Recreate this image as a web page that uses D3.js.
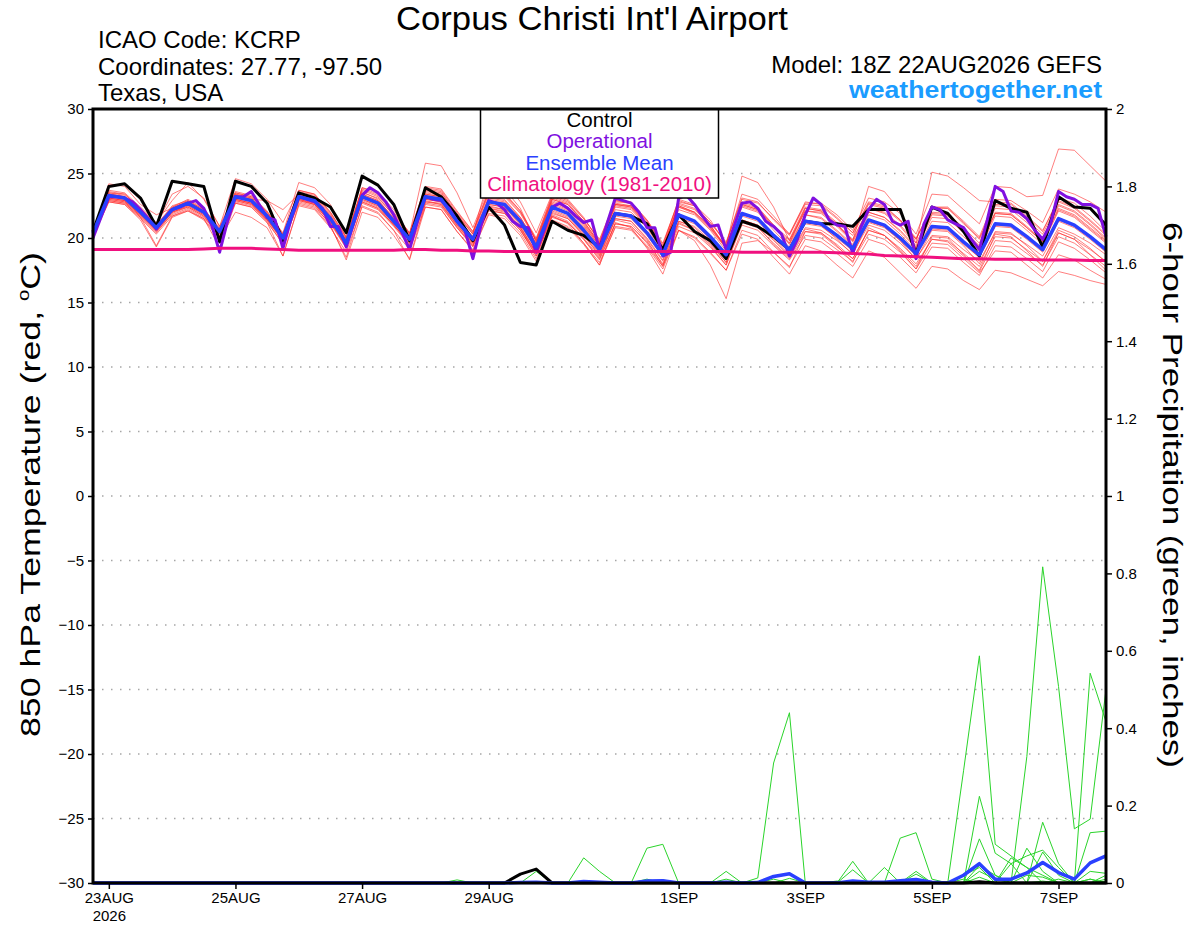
<!DOCTYPE html>
<html>
<head>
<meta charset="utf-8">
<title>KCRP GEFS 850 hPa temperature</title>
<script src="https://cdn.jsdelivr.net/npm/d3@7"></script>
<style>
  body { margin: 0; background: #ffffff; }
  svg { display: block; }
  text { font-family: "Liberation Sans", Arial, sans-serif; }
</style>
</head>
<body>
<div id="container"></div>
<script>
/**
 * CONSTANTS AND GLOBALS
 * */
const width = 1200,
  height = 927,
  margin = { top: 109, bottom: 44, left: 93, right: 94 };

const runStart = Date.UTC(2026, 7, 22, 18); // 18Z 22AUG2026
const HOUR = 3600 * 1000;

const colors = {
  member: "#ff2a2a",
  pcp: "#2ad42a",
  control: "#000000",
  oper: "#8010e0",
  mean: "#2a40ff",
  clim: "#f0107f",
  site: "#1a9cff"
};

let svg;

/**
 * DATA
 * */
const tickDays = ["2026-08-23T00:00:00Z", "2026-08-25T00:00:00Z", "2026-08-27T00:00:00Z", "2026-08-29T00:00:00Z",
  "2026-09-01T00:00:00Z", "2026-09-03T00:00:00Z", "2026-09-05T00:00:00Z", "2026-09-07T00:00:00Z"];
const tickLabels = ["23AUG", "25AUG", "27AUG", "29AUG", "1SEP", "3SEP", "5SEP", "7SEP"];
const tempTicks = [-30, -25, -20, -15, -10, -5, 0, 5, 10, 15, 20, 25, 30];
const pcpTicks = [0, 0.2, 0.4, 0.6, 0.8, 1, 1.2, 1.4, 1.6, 1.8, 2];
const legendItems = ["Control", "Operational", "Ensemble Mean", "Climatology (1981-2010)"];

// 850 hPa temperature, 6-hourly from 18Z 22AUG (65 values)
const tempMean = [20.4, 23.3,23.1,22.0,20.8, 22.2,22.7,22.0,20.5, 23.2,22.9,21.7,20.0, 23.2,22.9,21.5,19.6, 23.2,22.7,21.3,19.9, 23.2,23.0,21.3,19.9, 22.8,22.6,21.3,19.3, 22.4,21.9,20.6,19.1, 21.9,21.7,20.4,18.7, 21.8,21.3,20.1,18.7, 21.9,21.5,20.2,19.1, 21.3,21.1,20.2,19.2, 21.4,21.0,20.0,18.8, 20.9,20.8,19.7,18.7, 21.1,21.0,20.1,19.1, 21.5,21.0,20.1,19.1];
const tempControl = [20.5, 24.0,24.2,23.1,20.9, 24.4,24.2,24.0,19.7, 24.4,24.0,22.7,19.8, 23.5,23.1,22.4,20.4, 24.8,24.1,22.6,19.8, 23.9,23.2,21.7,19.8, 22.4,21.0,18.1,17.9, 21.3,20.6,20.2,19.3, 21.9,21.7,21.1,19.1, 21.8,20.5,19.8,18.4, 21.3,20.9,20.1,19.1, 21.3,21.1,21.1,20.9, 22.2,22.2,22.2,18.8, 22.4,21.9,20.5,18.6, 22.9,22.3,22.0,19.3, 23.2,22.4,22.3,21.0];
const tempClim = [19.1, 19.1,19.1,19.1,19.1, 19.1,19.1,19.15,19.2, 19.2,19.2,19.15,19.1, 19.05,19.05,19.05,19.05, 19.05,19.05,19.05,19.1, 19.1,19.05,19.05,19.0, 19.0,18.95,18.95,18.95, 18.95,18.95,18.95,18.95, 18.95,18.95,18.95,18.95, 18.95,18.95,18.95,18.95, 18.9,18.9,18.9,18.9, 18.9,18.9,18.85,18.8, 18.75,18.65,18.6,18.55, 18.5,18.45,18.4,18.4, 18.35,18.35,18.35,18.3, 18.3,18.3,18.25,18.25];
// operational run is 3-hourly (129 values)
const tempOper = [20.0,
  21.6,23.2,23.2,23.1,22.8,22.2,21.5,20.7,
  21.5,22.2,22.4,22.7,22.9,22.3,21.0,18.9,
  21.3,23.2,23.2,23.6,22.6,21.6,21.4,19.2,
  21.4,23.2,23.0,22.8,22.3,20.9,20.9,19.3,
  21.3,23.3,23.9,23.5,22.8,21.8,20.5,19.1,
  21.3,23.2,23.0,22.9,22.3,21.3,20.6,18.4,
  20.9,22.9,22.7,22.2,21.3,20.9,20.8,18.9,
  20.6,22.4,22.7,22.3,21.7,21.2,21.4,19.1,
  21.2,23.1,22.9,22.7,22.0,20.8,20.8,18.6,
  18.9,23.1,23.3,22.6,21.7,20.9,21.0,19.1,
  20.9,22.7,22.8,22.3,21.3,20.9,20.3,18.6,
  19.9,21.8,23.1,22.6,21.4,21.0,20.9,18.8,
  20.8,22.2,23.0,22.6,21.3,21.0,21.3,18.4,
  21.1,22.4,22.2,21.4,21.1,20.8,19.9,19.1,
  21.4,24.0,23.6,22.1,22.0,21.5,20.6,19.9,
  21.1,23.6,23.2,23.0,22.6,22.6,22.3,20.1];

// ensemble members (thin red lines)
const mem01 = [20.5, 23.6,23.4,22.3,21.1, 23.4,24.0,23.1,20.9, 23.6,23.3,22.1,20.3, 23.7,23.4,22.0,20.1, 23.8,23.3,21.9,20.4, 23.9,23.7,22.0,20.5, 23.6,23.5,22.1,20.0, 23.3,22.9,21.5,19.9, 22.9,22.8,21.4,19.6, 22.9,22.5,21.2,19.7, 23.1,22.8,21.4,20.2, 22.6,22.5,21.5,20.4, 22.8,22.5,21.4,20.0, 22.3,22.3,21.1,20.0, 22.6,22.6,21.6,20.5, 23.1,22.7,21.7,20.5];
const mem02 = [20.2, 22.9,22.7,21.6,19.4, 21.7,22.2,21.5,19.3, 22.7,22.4,21.2,18.6, 22.6,22.3,20.9,18.5, 22.5,22.0,20.6,18.3, 22.4,22.2,20.5,19.1, 21.9,21.7,20.4,18.4, 21.4,20.9,19.6,18.1, 20.8,20.6,19.3,17.6, 20.6,20.1,18.9,17.5, 20.6,20.2,18.9,17.8, 19.9,19.7,18.8,17.8, 19.9,19.5,18.5,17.3, 19.3,19.2,18.1,17.1, 19.4,19.3,18.4,17.4, 19.7,19.2,18.3,17.3];
const mem03 = [20.3, 23.1,22.9,21.8,20.6, 22.0,22.5,21.8,20.3, 23.0,22.7,21.5,19.8, 23.0,22.6,21.2,19.3, 22.9,22.4,21.0,19.6, 22.9,22.6,20.9,19.4, 22.3,22.0,20.7,18.6, 21.7,21.1,19.6,17.9, 21.2,20.8,19.2,17.2, 20.6,19.8,17.9,15.3, 19.6,19.8,18.9,17.7, 20.5,20.4,19.4,18.1, 20.8,20.2,19.0,17.6, 20.1,20.0,18.7,17.5, 20.3,20.1,19.0,17.8, 20.4,19.9,18.7,17.5];
const mem04 = [20.6, 23.5,23.4,22.3,21.0, 22.4,23.0,22.3,20.7, 23.5,23.2,22.0,20.3, 23.6,23.3,21.9,19.9, 23.7,23.2,21.7,20.2, 23.8,23.6,21.8,20.3, 23.4,23.2,21.9,19.8, 23.1,22.7,21.3,19.6, 22.8,22.7,21.3,19.5, 22.8,22.5,21.2,19.6, 23.0,22.7,21.5,20.3, 22.7,22.7,21.8,20.6, 23.1,22.8,21.9,20.3, 23.4,23.3,22.2,21.1, 24.0,23.9,23.2,23.3, 26.9,26.8,25.6,24.4];
const mem05 = [20.4, 23.4,23.2,22.1,20.9, 22.3,22.9,22.2,20.6, 23.4,23.1,21.9,20.2, 23.5,23.2,21.8,19.8, 23.6,23.0,21.5,20.0, 23.5,23.3,21.6,20.1, 23.2,23.0,21.6,19.6, 22.8,22.3,21.0,19.4, 22.5,22.3,21.0,19.3, 22.5,22.0,20.8,19.3, 22.6,22.2,20.9,19.8, 22.1,22.0,21.0,19.9, 22.3,22.0,21.0,19.6, 25.1,24.8,23.9,22.9, 22.8,22.7,21.7,20.6, 22.9,22.4,21.4,20.3];
const mem06 = [20.3, 23.0,22.8,21.7,20.5, 22.0,22.4,21.7,20.1, 22.8,22.5,21.4,19.7, 22.9,22.6,21.2,19.3, 22.8,22.3,21.0,19.5, 22.8,22.7,21.0,19.5, 22.5,22.2,20.9,18.9, 22.0,21.5,20.2,18.6, 21.5,21.3,19.9,18.2, 21.3,20.8,19.6,18.1, 21.2,20.8,19.6,18.5, 20.7,20.4,19.5,18.4, 20.6,20.2,19.2,18.0, 19.9,19.8,18.8,17.8, 20.1,20.0,19.1,18.2, 20.4,19.9,19.1,18.2];
const mem07 = [20.5, 23.5,23.3,22.2,21.0, 22.5,22.9,22.2,20.8, 23.5,23.2,22.0,20.4, 24.3,23.9,22.6,20.0, 23.5,23.1,21.8,20.3, 23.7,23.5,21.9,20.4, 23.5,23.3,22.0,19.9, 23.2,22.8,21.5,19.8, 22.9,22.7,21.4,19.4, 23.0,22.6,21.4,19.5, 23.4,23.0,21.7,20.3, 22.8,22.6,21.6,20.4, 22.7,22.4,21.4,19.9, 22.4,22.3,21.2,19.9, 22.5,22.4,21.4,20.3, 22.8,22.3,21.3,20.2];
const mem08 = [20.2, 23.0,22.8,21.7,20.5, 21.8,22.3,21.6,20.2, 22.9,22.6,21.3,19.5, 22.8,22.5,21.0,18.3, 22.0,21.6,20.2,18.4, 22.7,22.5,20.8,19.4, 22.1,21.9,20.6,18.8, 21.8,21.3,20.0,18.5, 21.4,21.1,19.8,17.9, 21.2,20.6,19.4,17.9, 21.3,20.9,19.5,18.4, 20.5,20.3,19.3,18.4, 20.6,20.2,19.1,17.8, 19.9,19.7,18.6,17.4, 19.8,19.7,18.8,17.9, 20.1,19.6,18.7,17.8];
const mem09 = [20.4, 24.2,24.0,22.6,21.8, 22.3,22.8,22.1,20.5, 23.3,23.0,21.8,20.1, 23.3,23.1,21.6,19.7, 23.9,23.6,22.2,20.3, 25.8,25.6,23.5,20.8, 23.9,23.8,22.3,19.7, 23.0,22.6,21.2,19.5, 22.6,22.5,21.1,19.1, 22.7,22.3,21.0,19.2, 22.8,22.4,21.0,19.6, 22.1,21.9,20.9,19.7, 22.0,21.6,20.6,19.3, 21.8,21.7,20.6,19.4, 21.9,21.8,20.8,19.7, 22.2,21.7,20.7,19.7];
const mem10 = [20.3, 23.1,22.9,21.8,20.6, 22.1,22.6,21.9,20.4, 23.0,22.7,21.5,19.8, 23.0,22.7,21.3,19.4, 23.0,22.5,21.1,19.7, 23.0,22.8,21.1,19.6, 22.4,22.2,20.8,18.8, 21.7,21.2,19.9,18.4, 21.1,20.9,19.6,17.8, 20.6,20.0,18.8,17.5, 20.3,19.9,18.5,17.2, 19.4,19.0,17.9,16.9, 19.0,18.5,17.3,16.1, 17.8,17.6,16.7,16.0, 17.5,17.3,16.8,16.3, 17.4,17.1,16.7,16.4];
const mem11 = [20.4, 23.3,23.2,22.0,20.8, 22.2,22.7,22.0,20.6, 23.2,22.9,21.7,20.0, 23.3,23.0,21.6,19.6, 23.3,22.8,21.4,19.9, 23.3,23.1,21.4,19.9, 22.9,22.7,21.4,19.4, 22.6,22.1,20.8,19.3, 22.2,22.0,20.8,18.9, 22.2,21.8,20.6,19.0, 22.4,22.0,20.6,19.3, 21.8,21.6,20.6,19.5, 22.0,21.6,20.5,19.2, 21.6,21.5,20.4,19.3, 21.9,21.8,20.8,19.7, 22.3,21.8,20.8,19.8];
const mem12 = [20.5, 23.4,23.2,22.1,20.9, 22.4,22.8,22.1,20.6, 23.3,23.0,22.9,22.2, 23.4,23.1,21.7,19.8, 23.4,22.9,21.6,20.1, 23.6,23.4,21.8,20.3, 24.6,24.4,22.8,20.4, 23.4,23.0,21.6,19.7, 22.6,22.4,21.0,19.1, 22.4,22.0,20.9,19.3, 24.8,24.3,22.4,19.8, 22.3,22.1,21.1,19.8, 22.3,21.9,20.9,19.4, 21.9,21.8,20.6,19.3, 22.0,21.9,20.9,19.8, 22.5,22.0,21.0,19.9];
const mem13 = [20.3, 22.9,22.7,21.6,20.4, 21.9,22.4,21.7,20.3, 22.9,22.6,21.4,19.8, 22.9,22.6,21.3,19.4, 22.8,22.3,21.0,19.6, 22.8,22.6,21.0,19.6, 22.3,22.1,20.8,18.9, 21.9,21.5,20.2,18.7, 21.5,21.3,20.0,18.3, 21.3,20.9,19.8,18.4, 21.4,21.0,19.9,18.7, 20.8,20.6,19.8,18.8, 21.0,20.6,19.6,18.4, 20.2,20.1,19.1,18.2, 20.4,20.3,19.5,18.6, 20.8,20.3,19.6,18.7];
const mem14 = [20.4, 23.4,23.2,22.1,20.9, 22.3,22.8,22.1,20.6, 23.3,23.0,21.8,20.1, 23.3,23.0,21.6,19.7, 23.3,22.8,21.4,20.0, 23.4,23.2,21.5,20.1, 23.0,22.8,21.5,19.5, 22.7,22.2,20.9,19.4, 22.4,22.2,20.9,19.1, 22.5,22.0,20.8,19.2, 22.7,22.3,21.0,19.9, 22.4,22.2,21.2,20.2, 22.6,22.3,21.3,19.9, 22.4,22.4,21.3,20.1, 23.0,22.9,22.1,21.2, 23.8,23.4,22.8,22.0];
const mem15 = [20.5, 23.7,23.5,22.4,21.2, 22.9,24.3,23.0,20.9, 24.6,24.2,23.0,21.2, 23.7,23.4,22.0,20.0, 23.9,23.4,22.0,20.4, 24.0,23.8,22.1,20.5, 23.7,23.4,22.1,19.8, 23.0,22.6,21.3,19.6, 22.7,22.5,21.2,19.2, 22.6,22.2,21.0,19.3, 22.6,22.2,20.9,19.5, 21.8,21.5,20.5,19.4, 21.8,21.4,20.3,19.0, 21.3,21.2,20.1,19.0, 21.7,21.6,20.6,19.5, 22.1,21.6,20.6,19.6];
const mem16 = [20.1, 22.8,22.6,21.5,20.3, 21.7,22.1,21.4,19.9, 22.0,21.6,20.8,18.6, 22.5,22.2,20.8,18.9, 22.4,21.9,20.6,19.1, 22.4,22.2,20.5,19.0, 21.8,21.5,20.2,18.2, 21.3,20.8,19.5,17.9, 20.9,20.7,19.4,17.8, 20.9,20.4,19.3,17.9, 21.0,20.6,19.4,18.3, 20.2,20.0,19.1,18.2, 20.3,19.9,18.9,17.6, 19.6,19.5,18.4,17.3, 19.0,18.9,17.9,16.9, 18.7,18.3,17.5,16.8];
const mem17 = [20.4, 23.2,23.0,21.9,20.7, 22.1,22.6,21.9,20.4, 23.1,22.8,21.6,19.9, 23.1,22.8,21.4,19.5, 23.1,22.6,21.2,19.8, 23.1,22.9,21.2,19.8, 22.6,22.4,21.1,19.1, 22.2,21.7,20.4,18.9, 21.7,21.5,20.2,18.5, 21.6,21.1,19.9,18.5, 21.7,21.3,20.0,18.9, 21.1,20.9,20.0,19.0, 21.2,20.8,19.8,18.6, 20.7,20.6,19.5,18.5, 21.0,20.9,20.0,19.0, 21.4,20.9,20.0,19.0];
const mem18 = [20.5, 23.3,23.1,22.0,20.8, 22.3,22.8,22.1,20.6, 23.4,23.1,21.9,20.2, 23.4,23.1,21.7,19.7, 23.4,22.9,21.5,20.0, 23.4,23.2,21.5,20.0, 23.1,22.9,21.6,19.6, 22.9,22.4,21.1,19.5, 22.6,22.4,21.1,19.2, 22.4,21.9,20.7,19.2, 22.5,22.1,20.8,19.6, 22.3,22.1,21.0,19.8, 24.0,23.6,22.1,19.6, 22.0,21.9,20.8,19.6, 22.3,22.2,21.2,20.0, 22.6,22.1,21.1,20.0];
const mem19 = [20.3, 23.1,22.9,21.8,20.6, 22.0,22.5,21.8,20.4, 23.0,22.7,21.5,19.9, 23.0,22.7,21.4,19.5, 23.0,22.5,21.1,19.8, 23.0,22.8,21.2,19.8, 22.6,22.4,21.0,19.1, 22.1,21.6,20.3,18.8, 21.9,21.7,20.4,18.7, 21.8,21.3,20.1,18.6, 21.9,21.5,20.2,19.0, 21.3,21.1,20.1,19.1, 21.3,20.9,19.9,18.7, 20.8,20.7,19.6,18.5, 20.9,20.8,19.9,18.9, 21.3,20.8,19.9,18.9];
const mem20 = [20.2, 22.8,22.6,21.4,19.3, 21.6,22.1,21.5,20.0, 22.7,22.4,21.2,19.6, 22.7,22.4,21.1,19.2, 22.7,22.2,20.9,19.4, 22.6,22.4,20.8,19.3, 22.2,21.9,20.6,18.6, 21.6,21.2,19.9,18.3, 21.1,20.9,19.7,18.0, 21.1,20.6,19.5,18.1, 21.4,21.0,19.8,18.6, 21.2,21.0,19.9,18.7, 21.3,20.9,19.8,18.3, 20.6,20.5,19.4,18.0, 20.5,20.4,19.4,18.2, 20.6,20.1,19.2,18.1];
const tempMembers = [mem01, mem02, mem03, mem04, mem05, mem06, mem07, mem08, mem09, mem10,
  mem11, mem12, mem13, mem14, mem15, mem16, mem17, mem18, mem19, mem20];

// 6-hour precipitation (inches), 6-hourly from 18Z 22AUG (65 values, 13 per row)
const pcpMean = [0,0,0,0,0,0,0,0,0,0,0,0,0, 0,0,0,0,0,0,0,0,0,0,0,0,0,
  0,0.001,0.002,0,0,0.004,0.002,0,0,0.005,0.006,0,0,
  0,0.002,0,0.001,0.017,0.024,0,0,0,0.005,0.002,0.002,0.006,
  0.009,0.002,0,0.02,0.05,0.01,0.01,0.026,0.053,0.027,0.01,0.052,0.07];
const pcpControl = [0,0,0,0,0,0,0,0,0,0,0,0,0, 0,0,0,0,0,0,0,0,0,0,0,0,0,
  0,0.023,0.036,0,0,0,0,0,0,0,0,0,0,
  0,0,0,0,0,0,0,0,0,0,0,0,0,
  0,0,0,0,0.003,0,0,0,0,0,0,0,0];
const pcp01 = [0,0,0,0,0,0,0,0,0,0,0,0,0, 0,0,0,0,0,0,0,0,0,0,0,0,0, 0,0,0,0,0,0.065,0.03,0,0,0,0,0,0, 0,0,0,0,0,0,0,0,0,0,0,0,0, 0,0,0,0,0,0,0,0,0,0,0,0.01,0];
const pcp02 = [0,0,0,0,0,0,0,0,0,0,0,0,0, 0,0,0,0,0,0,0,0,0,0,0,0,0, 0,0,0,0,0,0,0,0,0,0.09,0.1,0,0, 0,0.03,0,0,0,0,0,0,0,0,0,0,0, 0,0,0,0,0,0,0,0,0,0,0,0,0];
const pcp03 = [0,0,0,0,0,0,0,0,0,0,0,0,0, 0,0,0,0,0,0,0,0,0,0,0,0,0, 0,0,0,0,0,0,0,0,0,0,0,0,0, 0,0,0,0.013,0.31,0.44,0,0,0,0,0,0,0, 0,0,0,0,0,0,0,0,0,0,0,0,0];
const pcp04 = [0,0,0,0,0,0,0,0,0,0,0,0,0, 0,0,0,0,0,0,0,0,0,0,0,0,0, 0,0,0,0,0,0,0,0,0,0,0,0,0, 0,0,0,0,0,0,0,0,0,0,0,0,0.116, 0.13,0.01,0,0,0,0,0,0,0,0,0,0,0];
const pcp05 = [0,0,0,0,0,0,0,0,0,0,0,0,0, 0,0,0,0,0,0,0,0,0,0,0,0,0, 0,0,0,0,0,0,0,0,0,0,0,0,0, 0,0,0,0,0,0,0,0,0,0,0,0,0, 0,0,0,0.29,0.587,0.1,0.07,0.04,0,0,0,0,0];
const pcp06 = [0,0,0,0,0,0,0,0,0,0,0,0,0, 0,0,0,0,0,0,0,0,0,0,0,0,0, 0,0,0,0,0,0,0,0,0,0,0,0,0, 0,0,0,0,0,0,0,0,0,0,0,0,0, 0,0,0,0,0.224,0.077,0.05,0,0,0,0,0,0];
const pcp07 = [0,0,0,0,0,0,0,0,0,0,0,0,0, 0,0,0,0,0,0,0,0,0,0,0,0,0, 0,0,0,0,0,0,0,0,0,0,0,0,0, 0,0,0,0,0,0,0,0,0,0,0,0,0, 0,0,0,0,0,0,0,0.327,0.817,0.508,0.14,0.165,0.5];
const pcp08 = [0,0,0,0,0,0,0,0,0,0,0,0,0, 0,0,0,0,0,0,0,0,0,0,0,0,0, 0,0,0,0,0,0,0,0,0,0,0,0,0, 0,0,0,0,0,0,0,0,0,0,0,0,0, 0,0,0,0,0.114,0.02,0,0,0,0,0,0.542,0.417];
const pcp09 = [0,0,0,0,0,0,0,0,0,0,0,0,0, 0,0,0,0,0,0,0,0,0,0,0,0,0, 0,0,0,0,0,0,0,0,0,0,0,0,0, 0,0,0,0,0,0,0,0,0,0,0,0,0, 0,0,0,0,0,0,0,0,0.157,0.05,0,0.13,0.134];
const pcp10 = [0,0,0,0,0,0,0,0,0,0,0,0,0, 0,0,0,0,0,0,0,0,0,0,0,0,0, 0,0,0,0,0,0,0,0,0,0,0,0,0, 0,0,0,0,0,0,0,0,0,0,0,0,0, 0,0,0,0,0,0,0,0.09,0.03,0,0,0,0];
const pcp11 = [0,0,0,0,0,0,0,0,0,0,0,0,0, 0,0,0,0,0,0,0,0,0,0,0,0,0, 0,0,0,0,0,0,0,0,0,0,0,0,0, 0,0,0,0,0,0,0,0,0,0.056,0,0,0, 0.03,0,0,0.02,0.04,0,0,0,0,0,0,0,0];
const pcp12 = [0,0,0,0,0,0,0,0,0,0,0,0,0, 0,0,0,0,0,0,0,0,0,0,0,0,0, 0,0,0,0,0,0,0,0,0,0,0,0,0, 0,0,0,0,0,0,0,0,0,0.034,0,0.04,0, 0,0,0,0.01,0,0,0,0,0.08,0.02,0,0,0];
const pcp13 = [0,0,0,0,0,0,0,0,0,0,0,0,0, 0,0,0,0,0,0,0,0,0,0,0,0,0, 0,0,0,0,0,0,0,0,0,0,0,0,0, 0,0.01,0,0,0.01,0,0,0,0,0,0,0,0, 0,0,0,0,0,0,0.065,0.04,0.02,0,0,0,0];
const pcp14 = [0,0,0,0,0,0,0,0,0,0,0,0,0, 0,0,0,0,0,0,0,0,0,0,0,0,0, 0,0,0,0,0,0,0,0,0,0,0,0,0, 0,0,0,0,0,0,0,0,0,0,0,0,0, 0,0,0,0,0,0,0.05,0.07,0.085,0.04,0,0,0.02];
const pcp15 = [0,0,0,0,0,0,0,0,0,0,0,0,0, 0,0,0,0,0,0,0,0,0,0,0,0,0, 0,0,0,0,0,0.005,0,0,0,0,0,0,0, 0,0,0,0,0,0,0,0,0,0,0,0,0, 0,0,0,0,0.03,0.01,0,0,0,0,0,0.03,0.025];
const pcp16 = [0,0,0,0,0,0,0,0,0,0,0,0,0, 0,0,0,0,0,0,0,0,0,0,0.008,0,0, 0,0,0,0,0,0,0,0,0,0.01,0,0,0, 0,0,0,0,0,0,0,0,0,0,0,0,0, 0.023,0,0,0,0.045,0.02,0,0,0,0,0,0,0];
const pcp17 = [0,0,0,0,0,0,0,0,0,0,0,0,0, 0,0,0,0,0,0,0,0,0,0,0,0,0, 0,0,0.03,0,0,0,0,0,0,0,0,0,0, 0,0,0,0,0,0.012,0,0,0,0,0,0,0, 0,0,0,0,0,0,0,0,0,0.01,0,0,0.01];
const pcp18 = [0,0,0,0,0,0,0,0,0,0,0,0,0, 0,0,0,0,0,0,0,0,0,0,0,0,0, 0,0,0,0,0,0,0,0,0,0,0,0,0, 0,0,0,0,0,0,0,0,0,0,0,0,0, 0,0,0,0,0,0,0,0.02,0.015,0,0,0.01,0];
const pcp19 = [0,0,0,0,0,0,0,0,0,0,0,0,0, 0,0,0,0,0,0,0,0,0,0,0,0,0, 0,0,0,0,0,0,0,0,0,0,0.008,0,0, 0,0,0,0,0,0,0,0,0.005,0,0,0,0, 0,0,0,0,0.015,0,0,0,0.005,0,0,0,0];
const pcp20 = [0,0,0,0,0,0,0,0,0,0,0,0,0, 0,0,0,0,0,0,0,0,0,0,0,0,0, 0,0,0,0,0,0,0,0,0,0,0,0,0, 0,0,0,0,0,0,0,0,0,0,0,0,0, 0,0,0,0,0,0,0,0,0,0,0,0,0.005];
const pcpMembers = [pcp01, pcp02, pcp03, pcp04, pcp05, pcp06, pcp07, pcp08, pcp09, pcp10,
  pcp11, pcp12, pcp13, pcp14, pcp15, pcp16, pcp17, pcp18, pcp19, pcp20];

init();

/**
 * INITIALIZING FUNCTION
 * */
function init() {
  svg = d3.select("#container")
    .append("svg")
    .attr("width", width)
    .attr("height", height)
    .style("background-color", "white");

  const x = d3.scaleUtc()
    .domain([new Date(runStart), new Date(runStart + (tempMean.length - 1) * 6 * HOUR)])
    .range([margin.left, width - margin.right]);
  const yTemp = d3.scaleLinear().domain([-30, 30]).range([height - margin.bottom, margin.top]);
  const yPcp = d3.scaleLinear().domain([0, 2]).range([height - margin.bottom, margin.top]);

  const sixHourly = (d, i) => x(new Date(runStart + i * 6 * HOUR));
  const threeHourly = (d, i) => x(new Date(runStart + i * 3 * HOUR));

  const tempLine = d3.line().x(sixHourly).y(d => yTemp(d));
  const operLine = d3.line().x(threeHourly).y(d => yTemp(d));
  const pcpLine = d3.line().x(sixHourly).y(d => yPcp(d));

  // dotted grid at the temperature ticks
  svg.append("g")
    .selectAll("line")
    .data(tempTicks.filter(d => d > -30 && d < 30))
    .join("line")
    .attr("x1", margin.left)
    .attr("x2", width - margin.right)
    .attr("y1", d => yTemp(d))
    .attr("y2", d => yTemp(d))
    .attr("stroke", "#a6a6a6")
    .attr("stroke-width", 1.4)
    .attr("stroke-dasharray", "1.5,7.5");

  // ensemble members
  svg.append("g")
    .selectAll("path")
    .data(tempMembers)
    .join("path")
    .attr("d", tempLine)
    .attr("fill", "none")
    .attr("stroke", colors.member)
    .attr("stroke-opacity", 0.6)
    .attr("stroke-width", 1);

  svg.append("g")
    .selectAll("path")
    .data(pcpMembers)
    .join("path")
    .attr("d", pcpLine)
    .attr("fill", "none")
    .attr("stroke", colors.pcp)
    .attr("stroke-width", 1);

  const thick = (data, line, color, w) =>
    svg.append("path")
      .datum(data)
      .attr("d", line)
      .attr("fill", "none")
      .attr("stroke", color)
      .attr("stroke-width", w)
      .attr("stroke-linejoin", "round");

  thick(tempControl, tempLine, colors.control, 3);
  thick(pcpControl, pcpLine, colors.control, 3);
  thick(tempOper, operLine, colors.oper, 3);
  thick(tempMean, tempLine, colors.mean, 3.5);
  thick(pcpMean, pcpLine, colors.mean, 3.5);
  thick(tempClim, tempLine, colors.clim, 3);

  // legend box
  const legend = svg.append("g");
  legend.append("rect")
    .attr("x", 480.5).attr("y", margin.top)
    .attr("width", 238).attr("height", 89)
    .attr("fill", "white").attr("stroke", "black").attr("stroke-width", 1.5);
  legend.selectAll("text")
    .data(legendItems)
    .join("text")
    .attr("x", 599.5)
    .attr("y", (d, i) => 127 + i * 21.4)
    .attr("text-anchor", "middle")
    .attr("font-size", 20.5)
    .attr("fill", (d, i) => [colors.control, colors.oper, colors.mean, colors.clim][i])
    .text(d => d);

  // frame
  svg.append("rect")
    .attr("x", margin.left).attr("y", margin.top)
    .attr("width", width - margin.left - margin.right)
    .attr("height", height - margin.top - margin.bottom)
    .attr("fill", "none").attr("stroke", "black").attr("stroke-width", 3);

  const styleAxis = g => {
    g.select(".domain").remove();
    g.attr("font-family", "Liberation Sans, Arial, sans-serif").attr("font-size", 15);
    g.selectAll(".tick line").attr("stroke-width", 1.5);
  };

  svg.append("g")
    .attr("transform", `translate(${margin.left},0)`)
    .call(d3.axisLeft(yTemp).tickValues(tempTicks).tickSize(5).tickPadding(4))
    .call(styleAxis);

  svg.append("g")
    .attr("transform", `translate(${width - margin.right},0)`)
    .call(d3.axisRight(yPcp).tickValues(pcpTicks).tickSize(6).tickPadding(4)
      .tickFormat(d => d3.format("~g")(+d.toFixed(1))))
    .call(styleAxis);

  const xAxisG = svg.append("g")
    .attr("transform", `translate(0,${height - margin.bottom})`)
    .call(d3.axisBottom(x).tickValues(tickDays.map(d => new Date(d)))
      .tickFormat((d, i) => tickLabels[i]).tickSize(6).tickPadding(3))
    .call(styleAxis);
  xAxisG.select(".tick")
    .append("text")
    .attr("fill", "currentColor")
    .attr("y", 27)
    .attr("dy", "0.71em")
    .text("2026");

  // axis titles
  svg.append("text")
    .attr("transform", "translate(40,494.5) rotate(-90)")
    .attr("text-anchor", "middle")
    .attr("font-size", 28)
    .attr("textLength", 485)
    .attr("lengthAdjust", "spacingAndGlyphs")
    .call(t => {
      t.append("tspan").text("850 hPa Temperature (red, ");
      t.append("tspan").attr("font-size", 16).attr("dy", -11).text("o");
      t.append("tspan").attr("dy", 11).text("C)");
    });

  svg.append("text")
    .attr("transform", "translate(1163,495) rotate(90)")
    .attr("text-anchor", "middle")
    .attr("font-size", 28)
    .attr("textLength", 546)
    .attr("lengthAdjust", "spacingAndGlyphs")
    .text("6-hour Precipitation (green, inches)");

  // header texts
  svg.append("text")
    .attr("x", 592).attr("y", 30)
    .attr("text-anchor", "middle")
    .attr("font-size", 33)
    .attr("textLength", 392)
    .attr("lengthAdjust", "spacingAndGlyphs")
    .text("Corpus Christi Int'l Airport");

  svg.append("g")
    .selectAll("text")
    .data(["ICAO Code: KCRP", "Coordinates: 27.77, -97.50", "Texas, USA"])
    .join("text")
    .attr("x", 98)
    .attr("y", (d, i) => 48 + i * 26.5)
    .attr("font-size", 24)
    .text(d => d);

  svg.append("text")
    .attr("x", 1102).attr("y", 73)
    .attr("text-anchor", "end")
    .attr("font-size", 24)
    .text("Model: 18Z 22AUG2026 GEFS");

  svg.append("text")
    .attr("x", 1102).attr("y", 98)
    .attr("text-anchor", "end")
    .attr("font-size", 24)
    .attr("font-weight", "bold")
    .attr("fill", colors.site)
    .attr("textLength", 253)
    .attr("lengthAdjust", "spacingAndGlyphs")
    .text("weathertogether.net");
}
</script>
</body>
</html>
